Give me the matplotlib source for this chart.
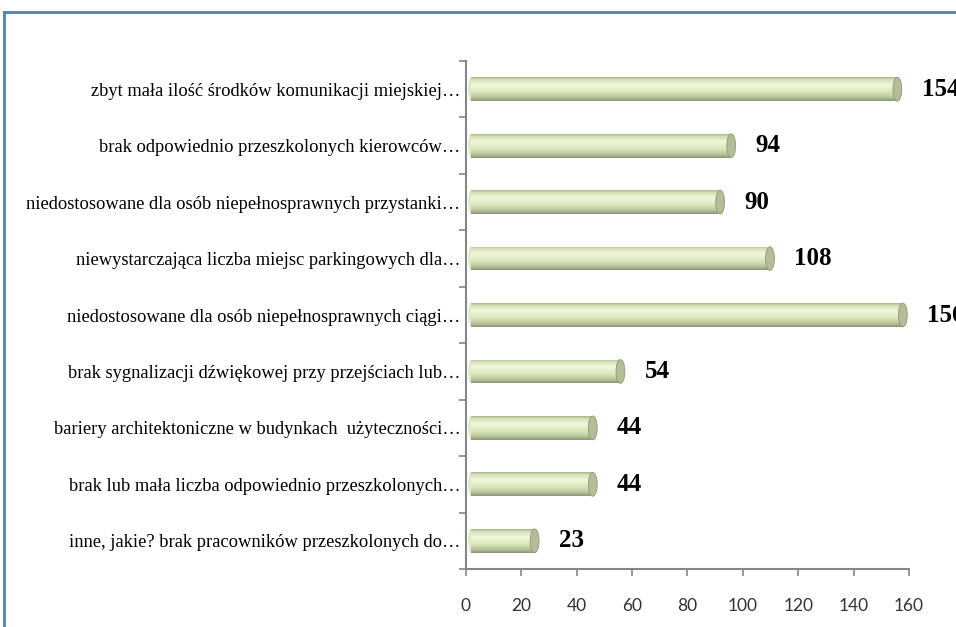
import matplotlib.pyplot as plt
import numpy as np
from matplotlib.patches import Ellipse
from matplotlib.lines import Line2D
from matplotlib.colors import LinearSegmentedColormap

categories = [
    "zbyt mała ilość środków komunikacji miejskiej…",
    "brak odpowiednio przeszkolonych kierowców…",
    "niedostosowane dla osób niepełnosprawnych przystanki…",
    "niewystarczająca liczba miejsc parkingowych dla…",
    "niedostosowane dla osób niepełnosprawnych ciągi…",
    "brak sygnalizacji dźwiękowej przy przejściach lub…",
    "bariery architektoniczne w budynkach  użyteczności…",
    "brak lub mała liczba odpowiednio przeszkolonych…",
    "inne, jakie? brak pracowników przeszkolonych do…",
]
values = [154, 94, 90, 108, 156, 54, 44, 44, 23]
xticks = [0, 20, 40, 60, 80, 100, 120, 140, 160]

fig = plt.figure(figsize=(9.56, 6.27), dpi=100)
ax = fig.add_axes([0.4874, 0.0925, 0.4634, 0.8102])

# frame lines of the chart area (top and left)
fig.add_artist(Line2D([0.0042, 0.0042], [0.0, 0.981], transform=fig.transFigure,
                      color="#4f81bd", lw=2))
fig.add_artist(Line2D([0.0042, 1.0], [0.981, 0.981], transform=fig.transFigure,
                      color="#4f81bd", lw=2))

n = len(categories)
ypos = np.arange(n)[::-1]
bar_h = 0.42
depth = 1.8  # small 3d offset of the cylinders from the axis

# cylinder shading, top to bottom
shade = LinearSegmentedColormap.from_list(
    "cyl", [(0.0, "#aab68a"), (0.1, "#d5e1b6"), (0.32, "#f0f7dc"),
            (0.6, "#dde9bf"), (0.85, "#b9c49a"), (1.0, "#8d977a")])
grad = np.linspace(0, 1, 64).reshape(-1, 1)

bars = ax.barh(ypos, values, left=depth, height=bar_h, color="#e1ecc4",
               edgecolor="none", zorder=2)
for b, v in zip(bars, values):
    y0 = b.get_y()
    im = ax.imshow(grad, cmap=shade, aspect="auto", origin="upper",
                   extent=[depth, depth + v, y0, y0 + bar_h], zorder=3)
    im.set_clip_path(b)
    ax.add_patch(Ellipse((depth, y0 + bar_h / 2), width=2.0, height=bar_h,
                         facecolor="#dfe9c4", edgecolor="none", zorder=2))
    cap = Ellipse((depth + v, y0 + bar_h / 2), width=3.2, height=bar_h,
                  facecolor="#b3bd98", edgecolor="#8f9a78", lw=0.6, zorder=4)
    ax.add_patch(cap)
    ax.annotate(str(v), (v, y0 + bar_h / 2), xytext=(21, 0), textcoords="offset points",
                va="center", ha="left", fontsize=18, fontweight="bold",
                family="Liberation Serif", color="black", annotation_clip=False)

ax.set_xlim(0, 160)
ax.set_ylim(-0.5, n - 0.5)
ax.set_xticks(xticks)
ax.set_xticklabels([str(t) for t in xticks], family="Lato", fontsize=12.5, color="#333333")
ax.set_yticks(ypos)
ax.set_yticklabels(categories, family="Liberation Serif", fontsize=13.3)
ax.set_yticks(np.arange(-0.5, n, 1.0), minor=True)
ax.tick_params(axis="y", which="major", length=0, pad=4)
ax.tick_params(axis="y", which="minor", length=5, color="#868686", width=1.2)
ax.tick_params(axis="x", which="major", length=5, color="#868686", width=1.2, pad=16)

for side in ["top", "right"]:
    ax.spines[side].set_visible(False)
for side in ["left", "bottom"]:
    ax.spines[side].set_color("#868686")
    ax.spines[side].set_linewidth(1.5)

fig.savefig("out.png", dpi=100)
